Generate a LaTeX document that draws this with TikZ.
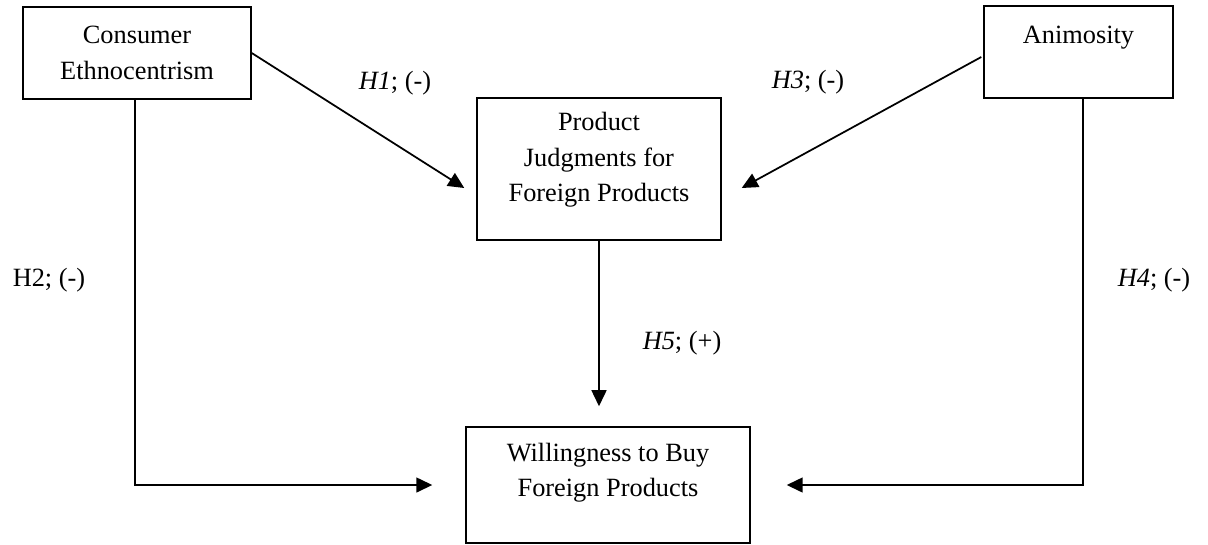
\documentclass[tikz,border=0pt]{standalone}
\usepackage{fontspec}
\setmainfont{Liberation Serif}
\usepackage{tikz}
\usetikzlibrary{arrows.meta,calc}

% extra depth below the last line of a box text
\newcommand{\lowpad}[1]{\rule[-#1]{0pt}{0pt}}

\begin{document}
\begin{tikzpicture}[x=0.016cm, y=-0.016cm,
    box/.style={draw, line width=0.7pt, align=center, inner sep=0pt,
        font=\fontsize{12}{16.1}\selectfont},
    link/.style={line width=0.8pt, -{Triangle[length=7.3pt, width=6.8pt]}},
    hyp/.style={inner sep=0pt, font=\fontsize{12}{14}\selectfont}]
        \useasboundingbox (0,0) rectangle (1208,544);

        % Constructs
        \node[box, minimum width=3.648cm, minimum height=1.472cm] (ce) at (137,53)
            {Consumer\\Ethnocentrism};
        \node[box, minimum width=3.024cm, minimum height=1.472cm] (an) at (1078.5,52)
            {Animosity\lowpad{16pt}};
        \node[box, minimum width=3.904cm, minimum height=2.272cm] (pj) at (599,169)
            {Product\\Judgments for\\Foreign Products\lowpad{10.8pt}};
        \node[box, minimum width=4.544cm, minimum height=1.856cm] (wb) at (608,485)
            {Willingness to Buy\\Foreign Products\lowpad{13.9pt}};

        % Hypothesised paths
        \draw[link] (ce.east) -- ($(pj.west)+(-12,19)$);
        \draw[link] ($(an.west)+(-2,5)$) -- ($(pj.east)+(20,19)$);
        \draw[link, shorten >=0.528cm] ($(ce.south)+(-2,0)$) |- (wb.west);
        \draw[link, shorten >=0.576cm] ($(an.south)+(4.5,0)$) |- (wb.east);
        \draw[link, shorten >=0.32cm] (pj.south) -- (pj.south |- wb.north);

        % Path labels
        \node[hyp] (h1) at (395,83) {\textit{H1}; (-)};
        \node[hyp] (h2) at (49,280) {H2; (-)};
        \node[hyp] (h3) at (808,82) {\textit{H3}; (-)};
        \node[hyp] (h4) at (1154,280) {\textit{H4}; (-)};
        \node[hyp] (h5) at (682,343) {\textit{H5}; (+)};
\end{tikzpicture}
\end{document}
